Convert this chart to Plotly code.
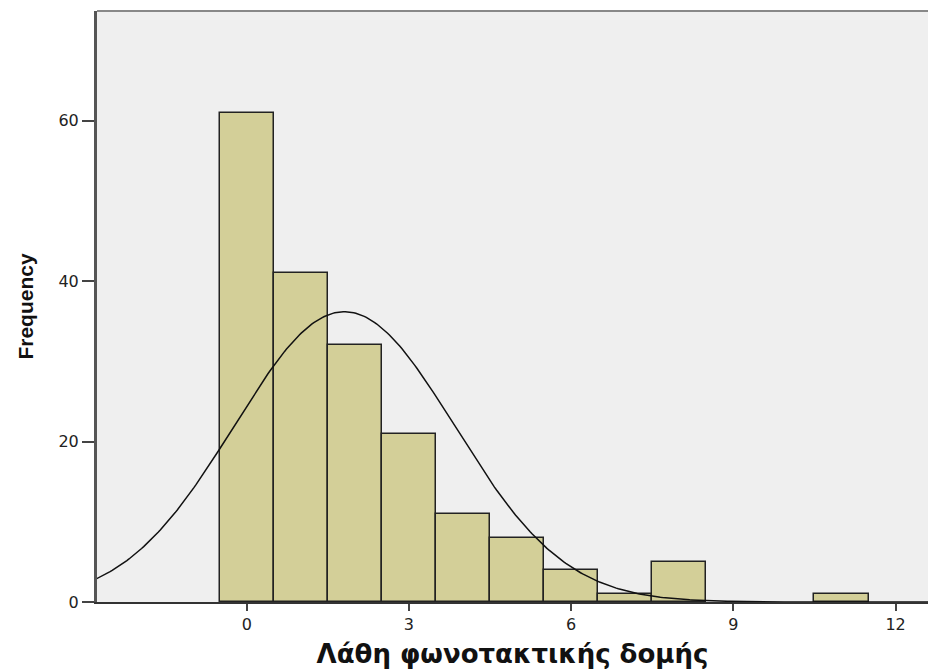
import numpy as np
import plotly.graph_objects as go

# Histogram of error counts (bin width 1, bins centred on integers)
error_values = [0, 1, 2, 3, 4, 5, 6, 7, 8, 11]
frequencies = [61, 41, 32, 21, 11, 8, 4, 1, 5, 1]
x_tick_values = [0, 3, 6, 9, 12]
y_tick_values = [0, 20, 40, 60]

x_title = "Λάθη φωνοτακτικής δομής"
y_title = "Frequency"

# Normal curve fitted to the same data, scaled to counts
vals = np.array(error_values, dtype=float)
freq = np.array(frequencies, dtype=float)
n = freq.sum()
mean = (vals * freq).sum() / n
sd = np.sqrt(((vals - mean) ** 2 * freq).sum() / (n - 1))
xs = np.linspace(-2.8, 12.7, 400)
ys = n * 1.0 / (sd * np.sqrt(2 * np.pi)) * np.exp(-0.5 * ((xs - mean) / sd) ** 2)

fig = go.Figure()
fig.add_trace(go.Bar(
    x=error_values, y=frequencies, width=1.0,
    marker=dict(color="#D3CF98", line=dict(color="#222222", width=1.5)),
    showlegend=False, hoverinfo="x+y",
))
fig.add_trace(go.Scatter(
    x=xs, y=ys, mode="lines",
    line=dict(color="#111111", width=1.5),
    showlegend=False, hoverinfo="skip",
))

tick_font = dict(family="DejaVu Sans, Liberation Sans", size=16, color="#222222")

fig.update_layout(
    width=928, height=669,
    margin=dict(l=97, r=0, t=11, b=67),
    paper_bgcolor="white", plot_bgcolor="#EFEFEF",
    bargap=0,
    xaxis=dict(
        range=[-2.77, 12.6], tickvals=x_tick_values,
        showgrid=False, zeroline=False,
        showline=True, linecolor="#333333", linewidth=2,
        ticks="outside", ticklen=7, tickwidth=2, tickcolor="#444444",
        tickfont=tick_font,
        title=dict(text=f"<b>{x_title}</b>", standoff=12,
                   font=dict(family="DejaVu Sans, Liberation Sans", size=26, color="#111111")),
    ),
    yaxis=dict(
        range=[0, 73.7], tickvals=y_tick_values,
        showgrid=False, zeroline=False,
        showline=True, linecolor="#555555", linewidth=3,
        ticks="outside", ticklen=12, tickwidth=2, tickcolor="#444444",
        tickfont=tick_font,
        title=dict(text=f"<b>{y_title}</b>", standoff=20,
                   font=dict(family="Liberation Sans, Arial", size=21, color="#111111")),
    ),
    shapes=[dict(type="line", xref="paper", yref="paper", x0=0, x1=1, y0=1, y1=1,
                 line=dict(color="#888888", width=2))],
)

fig.write_html("out.html")
